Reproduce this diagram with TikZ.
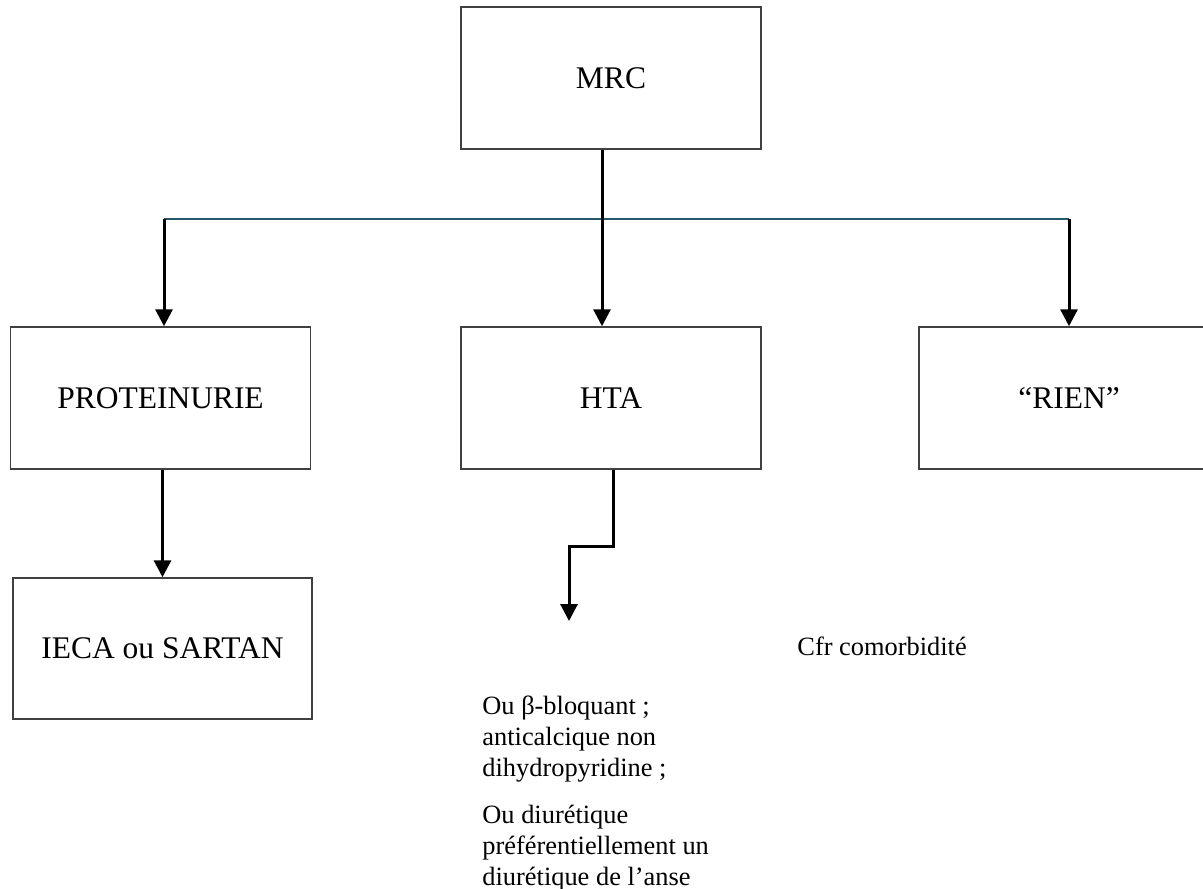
\documentclass[tikz,border=0pt]{standalone}
\usepackage{fontspec}
\setmainfont{Liberation Serif}
\usetikzlibrary{arrows.meta}
\definecolor{lienbleu}{RGB}{38,88,108}
\tikzset{boite/.style={draw=black!75,line width=0.75pt,minimum width=150pt,minimum height=71pt,inner sep=0pt,font=\fontsize{15.75}{18}\selectfont},
  fleche/.style={-{Triangle[length=8.5pt,width=8.5pt]},line width=1.5pt},
  note/.style={inner sep=0pt,align=left,font=\fontsize{13.2}{15.5}\selectfont}}

\begin{document}
\begin{tikzpicture}[x=0.5pt,y=-0.5pt]
   \useasboundingbox (0,0) rectangle (1203,888);
   \draw (611,78) node[boite] (MRC) {MRC};
    \draw (160.5,398) node[boite] (PROTEINURIE) {PROTEINURIE};
    \draw (611,398) node[boite] (HTA) {HTA};
    \draw (1069,398) node[boite] (RIEN) {``RIEN''};
    \draw (162.5,648.5) node[boite,minimum width=149.5pt,minimum height=70.5pt] (IECA) {IECA ou SARTAN};
      \draw (797,655) node[note,anchor=base west] (comorbidite) {Cfr comorbidit\'e};
      \draw (482,695) node[note,anchor=north west] (bloquant) {Ou β-bloquant ;\\anticalcique non\\dihydropyridine ;};
      \draw (482,805) node[note,anchor=north west] (diuretique) {Ou diur\'etique\\pr\'ef\'erentiellement un\\diur\'etique de l'anse};

   \coordinate (gauche) at (164,219);
   \coordinate (droite) at (1069,219);
   \coordinate (coude) at (569,546);
   \coordinate (bout) at (569,621);

        \draw[lienbleu,line width=1pt] (gauche) -- (droite);
        \path[fleche] ([xshift=-4.5pt]MRC.south) edge ([xshift=-4.5pt]HTA.north);
        \path[fleche] (gauche) edge (gauche |- PROTEINURIE.north);
        \path[fleche] (droite) edge (droite |- RIEN.north);
        \path[fleche] (IECA.north |- PROTEINURIE.south) edge (IECA.north);
        \draw[fleche] ([xshift=1pt]HTA.south) |- (coude) -- (bout);
\end{tikzpicture}
\end{document}
